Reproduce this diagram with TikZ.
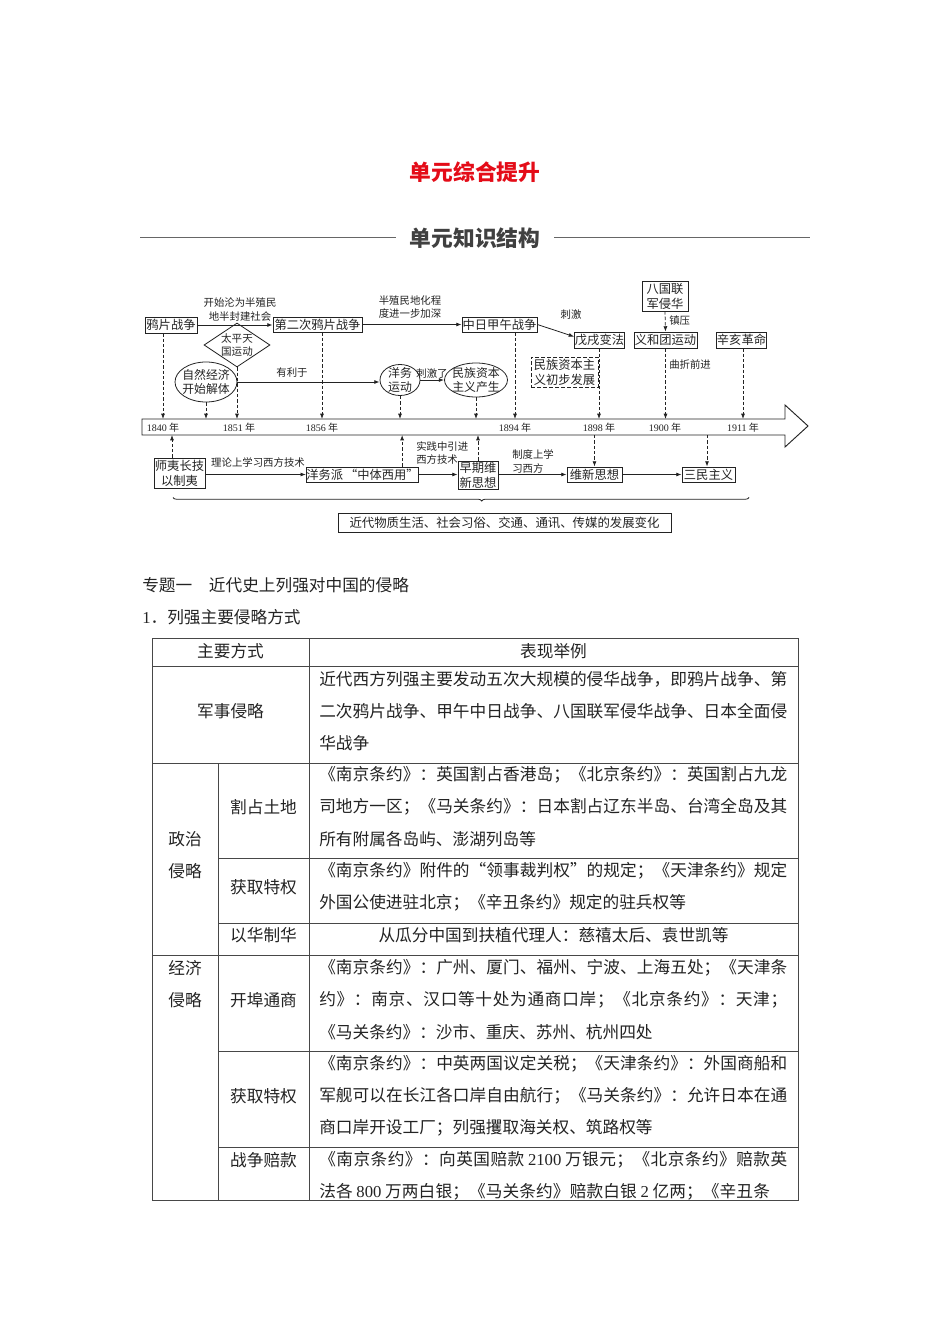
\documentclass[tikz,border=0pt]{standalone}
\usepackage{fontspec}
\setmainfont{Noto Sans CJK SC}
\newfontfamily\lser{Liberation Serif}
\usetikzlibrary{arrows.meta,shapes.geometric,decorations.pathreplacing,calc}
\newdimen\pxu \pxu=0.75pt
\newcount\chcnt
\chcnt="3000 \loop \XeTeXcharclass\chcnt=7 \advance\chcnt by 1 \ifnum\chcnt<"3040 \repeat
\chcnt="4E00 \loop \XeTeXcharclass\chcnt=7 \advance\chcnt by 1 \ifnum\chcnt<"A000 \repeat
\chcnt="FF00 \loop \XeTeXcharclass\chcnt=7 \advance\chcnt by 1 \ifnum\chcnt<"FFF0 \repeat
\XeTeXcharclass"201C=7 \XeTeXcharclass"201D=7
\XeTeXinterchartoks 7 7 = {\hskip 0pt plus 1fil\relax}
\XeTeXinterchartoks 0 7 = {\hskip 0pt plus 1fil\relax}
\XeTeXinterchartoks 7 0 = {\hskip 0pt plus 1fil\relax}
\newcommand\jl[2][351pt]{{\XeTeXinterchartokenstate=1 \makebox[#1][s]{#2}}}
\definecolor{titlered}{RGB}{228,12,24}
\definecolor{ink}{RGB}{35,35,35}
\begin{document}
\begin{tikzpicture}[x=0.75pt,y=-0.75pt,
  every node/.style={inner sep=0pt, text=ink},
  dbox/.style={draw=ink, line width=0.6pt, font=\fontsize{9.2}{11.2}\selectfont, align=center},
  ell/.style={ellipse, draw=ink, line width=0.6pt, font=\fontsize{8.9}{10.5}\selectfont, align=center, inner sep=-2pt},
  lab/.style={font=\fontsize{7.8}{9.8}\selectfont, align=center},
  yr/.style={font=\fontsize{7.5}{9}\selectfont},
  arr/.style={draw=ink, line width=0.6pt, -{Latex[length=4pt,width=3pt]}},
  darr/.style={arr, dash pattern=on 2.5pt off 1.5pt},
  tline/.style={draw=black!72, line width=0.75pt},
  tx/.style={font=\fontsize{12.5}{15}\selectfont, anchor=west},
  tc/.style={font=\fontsize{12.5}{15}\selectfont},
]
\useasboundingbox (0,0) rectangle (950,1344);
\fill[white] (0,0) rectangle (950,1344);

% titles
\node[font=\bfseries\fontsize{16.3}{18}\selectfont, text=titlered] (t1) at (475,172) {单元综合提升};
\node[font=\bfseries\fontsize{16.3}{18}\selectfont, text=black!75] (t2) at (475,238) {单元知识结构};
\draw[black!60, line width=0.75pt] (140,238) -- (396,238);
\draw[black!60, line width=0.75pt] (554,238) -- (810,238);

% timeline bar
\draw[ink, line width=0.7pt] (142,419) -- (785,419) -- (785,405) -- (808,426) -- (785,447) -- (785,435) -- (142,435) -- cycle;
\coordinate (bt) at (0,419);
\coordinate (bb) at (0,435);
\node[yr] (y1840) at (163,428) {{\lser 1840} 年};
\node[yr] (y1851) at (239,428) {{\lser 1851} 年};
\node[yr] (y1856) at (322,428) {{\lser 1856} 年};
\node[yr] (y1894) at (515,428) {{\lser 1894} 年};
\node[yr] (y1898) at (599,428) {{\lser 1898} 年};
\node[yr] (y1900) at (665,428) {{\lser 1900} 年};
\node[yr] (y1911) at (743,428) {{\lser 1911} 年};

% upper nodes
\node[dbox, minimum width=52\pxu, minimum height=16\pxu] (yp) at (171,325) {鸦片战争};
\node[dbox, minimum width=89\pxu, minimum height=15\pxu] (er) at (317.5,324.5) {第二次鸦片战争};
\node[dbox, minimum width=75\pxu, minimum height=15\pxu] (jw) at (499.5,324.5) {中日甲午战争};
\node[dbox, minimum width=50\pxu, minimum height=16\pxu] (wx) at (599.5,340) {戊戌变法};
\node[dbox, dashed, dash pattern=on 3pt off 1.5pt, minimum width=67\pxu, minimum height=30\pxu] (mz) at (564.5,372) {民族资本主\\义初步发展};
\node[dbox, minimum width=46\pxu, minimum height=30\pxu] (bg) at (665,296) {八国联\\军侵华};
\node[dbox, minimum width=63\pxu, minimum height=16\pxu] (yh) at (665.5,340) {义和团运动};
\node[dbox, minimum width=50\pxu, minimum height=16\pxu] (xh) at (741.5,340) {辛亥革命};
\node[diamond, draw=ink, line width=0.6pt, aspect=1.5, inner sep=-2pt, minimum width=66\pxu, minimum height=44\pxu, font=\fontsize{7.9}{9.8}\selectfont, align=center] (tp) at (237,345) {太平天\\国运动};
\node[ell, minimum width=62\pxu, minimum height=40\pxu] (zr) at (206,382) {自然经济\\开始解体};
\node[ell, inner sep=-3pt, minimum width=40\pxu, minimum height=31\pxu] (yw) at (400,380) {洋务\\运动};
\node[ell, minimum width=63\pxu, minimum height=34\pxu] (mc) at (476,380) {民族资本\\主义产生};

% upper connectors
\draw[arr] (yp.east) -- (yp.east -| er.west);
\node[lab] (l1) at (240,309.5) {开始沦为半殖民\\地半封建社会};
\draw[arr] (er.east) -- (er.east -| jw.west);
\node[lab] (l2) at (410,307) {半殖民地化程\\度进一步加深};
\draw[arr] (jw.east) -- ($(wx.north west)!0.3!(wx.south west)$);
\node[lab] (l3) at (571,315) {刺激};
\draw[arr] (zr.east) -- (zr.east -| yw.west);
\node[lab] (l4) at (292,373) {有利于};
\draw[arr] (yw.east) -- (mc.west);
\node[lab] (l5) at (432,374) {刺激了};
\draw[darr] (bg.south) -- (yh.north);
\node[lab, anchor=west] (l6) at (669,321) {镇压};
\node[lab, anchor=west] (l7) at (669,365) {曲折前进};

\draw[darr] (yp.south -| y1840) -- (y1840 |- bt);
\draw[darr] (zr.south) -- (zr.south |- bt);
\draw[darr] (tp.south) -- (tp.south |- bt);
\draw[darr] (er.south -| y1856) -- (y1856 |- bt);
\draw[darr] (yw.south) -- (yw.south |- bt);
\draw[darr] (mc.south) -- (mc.south |- bt);
\draw[darr] (jw.south -| y1894) -- (y1894 |- bt);
\draw[darr] (wx.south -| y1898) -- (y1898 |- bt);
\draw[darr] (yh.south) -- (yh.south |- bt);
\draw[darr] (xh.south -| y1911) -- (y1911 |- bt);

% lower nodes
\node[dbox, minimum width=51\pxu, minimum height=30\pxu] (sy) at (179.5,473) {师夷长技\\以制夷};
\node[dbox, minimum width=105\pxu, minimum height=15\pxu] (yf) at (362.5,474.5) {洋务派\,“中体西用”};
\node[dbox, minimum width=40\pxu, minimum height=28\pxu] (zq) at (478,475) {早期维\\新思想};
\node[dbox, minimum width=55\pxu, minimum height=15\pxu] (wxs) at (594.5,474.5) {维新思想};
\node[dbox, minimum width=53\pxu, minimum height=15\pxu] (sm) at (708.5,474.5) {三民主义};
\node[dbox, minimum width=333\pxu, minimum height=19\pxu, font=\fontsize{9.3}{11}\selectfont] (jd) at (504.5,522.5) {近代物质生活、社会习俗、交通、通讯、传媒的发展变化};

\draw[arr] (sy.east |- yf.west) -- (yf.west);
\node[lab] (l8) at (258,463) {理论上学习西方技术};
\draw[arr] (yf.east) -- (yf.east -| zq.west);
\node[lab, anchor=west, align=left] (l9) at (416,453) {实践中引进\\西方技术};
\draw[arr] (zq.east |- wxs.west) -- (wxs.west);
\node[lab, anchor=west, align=left] (l10) at (512,461.5) {制度上学\\习西方};
\draw[arr] (wxs.east) -- (sm.west);

\draw[darr] ($(sy.north)+(-7.5,0)$) coordinate (syu) -- (syu |- bb);
\draw[darr] ($(yf.north east)+(-17,0)$) coordinate (yfu) -- (yfu |- bb);
\draw[darr] (zq.north) -- (zq.north |- bb);
\draw[darr] (wxs.north |- bb) -- (wxs.north);
\coordinate (smu) at ($(sm.north)+(-1.5,0)$);
\draw[darr] (smu |- bb) -- (smu);
\draw[ink, line width=0.6pt, decorate, decoration={brace, mirror, amplitude=2.6pt, aspect=0.536}] (173,497.5) -- (749,497.5);

% section headings
\node[tx] (s1) at (142,585) {专题一\hspace{1em}近代史上列强对中国的侵略};
\node[tx] (s2) at (142,617) {{\lser 1}．列强主要侵略方式};

% table
\draw[tline] (152,638) rectangle (798,1200);
\draw[tline] (309,638) -- (309,1200);
\draw[tline] (218,763) -- (218,1200);
\draw[tline] (152,666) -- (798,666);
\draw[tline] (152,763) -- (798,763);
\draw[tline] (218,858) -- (798,858);
\draw[tline] (218,923) -- (798,923);
\draw[tline] (152,955) -- (798,955);
\draw[tline] (218,1051) -- (798,1051);
\draw[tline] (218,1147) -- (798,1147);

\node[tc] (h1) at (230.5,651) {主要方式};
\node[tc] (h2) at (553.5,651) {表现举例};

\node[tc] (c1) at (230.5,711) {军事侵略};
\node[tx] (r1a) at (319,679) {\jl{近代西方列强主要发动五次大规模的侵华战争，即鸦片战争、第}};
\node[tx] (r1b) at (319,711) {\jl{二次鸦片战争、甲午中日战争、八国联军侵华战争、日本全面侵}};
\node[tx] (r1c) at (319,743) {华战争};

\node[tc] (c2a) at (185,839) {政治};
\node[tc] (c2b) at (185,871) {侵略};
\node[tc] (c21) at (263.5,807) {割占土地};
\node[tx] (r2a) at (319,775) {\jl{《南京条约》：英国割占香港岛；《北京条约》：英国割占九龙}};
\node[tx] (r2b) at (319,807) {\jl{司地方一区；《马关条约》：日本割占辽东半岛、台湾全岛及其}};
\node[tx] (r2c) at (319,839) {所有附属各岛屿、澎湖列岛等};
\node[tc] (c22) at (263.5,887) {获取特权};
\node[tx] (r3a) at (319,871) {\jl{《南京条约》附件的“领事裁判权”的规定；《天津条约》规定}};
\node[tx] (r3b) at (319,903) {外国公使进驻北京；《辛丑条约》规定的驻兵权等};
\node[tc] (c23) at (263.5,935) {以华制华};
\node[tc] (r4a) at (553.5,935) {从瓜分中国到扶植代理人：慈禧太后、袁世凯等};

\node[tc] (c3a) at (185,968) {经济};
\node[tc] (c3b) at (185,1000) {侵略};
\node[tc] (c31) at (263.5,1000) {开埠通商};
\node[tx] (r5a) at (319,968) {\jl{《南京条约》：广州、厦门、福州、宁波、上海五处；《天津条}};
\node[tx] (r5b) at (319,1000) {\jl{约》：南京、汉口等十处为通商口岸；《北京条约》：天津；}};
\node[tx] (r5c) at (319,1032) {《马关条约》：沙市、重庆、苏州、杭州四处};
\node[tc] (c32) at (263.5,1096) {获取特权};
\node[tx] (r6a) at (319,1064) {\jl{《南京条约》：中英两国议定关税；《天津条约》：外国商船和}};
\node[tx] (r6b) at (319,1096) {\jl{军舰可以在长江各口岸自由航行；《马关条约》：允许日本在通}};
\node[tx] (r6c) at (319,1128) {商口岸开设工厂；列强攫取海关权、筑路权等};
\node[tc] (c33) at (263.5,1160) {战争赔款};
\node[tx] (r7a) at (319,1160) {\jl{《南京条约》：向英国赔款 {\lser 2100} 万银元；《北京条约》赔款英}};
\node[tx] (r7b) at (319,1192) {\jl[338pt]{法各 {\lser 800} 万两白银；《马关条约》赔款白银 {\lser 2} 亿两；《辛丑条}};
\end{tikzpicture}
\end{document}
